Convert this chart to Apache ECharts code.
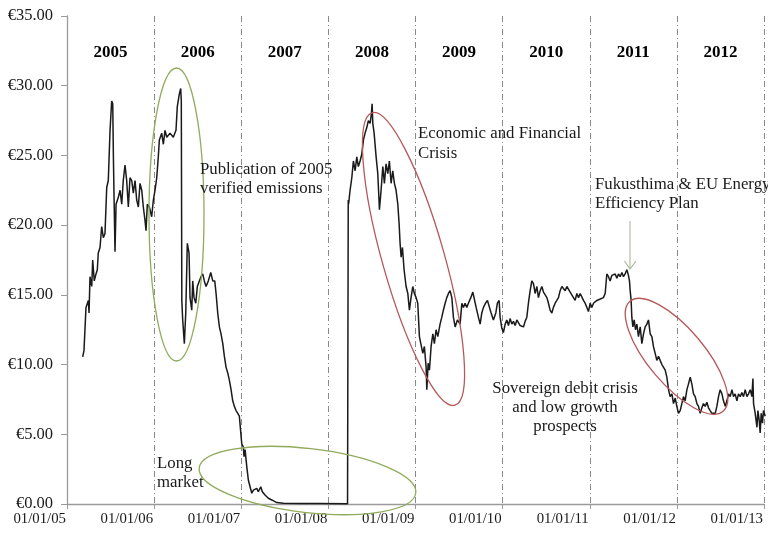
<!DOCTYPE html>
<html>
<head>
<meta charset="utf-8">
<script src="https://cdn.jsdelivr.net/npm/echarts@6/dist/echarts.min.js"></script>
<style>
html,body{margin:0;padding:0;background:#fff;}
#chart{width:768px;height:534px;}
</style>
</head>
<body>
<div id="chart"></div>
<script>
// Time in decimal years, price in EUR
const t = [
2005.180,2005.195,2005.218,2005.245,2005.253,2005.264,2005.284,2005.295,2005.313,2005.333,2005.348,2005.359,2005.379,2005.398,2005.417,2005.436,2005.456,2005.474,2005.494,2005.513,2005.525,2005.532,2005.540,2005.551,2005.563,2005.589,2005.609,2005.628,2005.646,2005.666,2005.685,2005.704,2005.723,2005.743,2005.761,2005.781,2005.800,2005.819,2005.838,2005.858,2005.876,2005.896,2005.907,2005.922,2005.945,2005.972,2005.991,
2006.010,2006.030,2006.048,2006.060,2006.087,2006.106,2006.125,2006.145,2006.183,2006.220,2006.251,2006.266,2006.289,2006.305,2006.312,2006.318,2006.328,2006.347,2006.363,2006.381,2006.401,2006.412,2006.432,2006.443,2006.458,2006.478,2006.496,2006.519,2006.538,2006.558,2006.576,2006.596,2006.622,2006.650,2006.673,2006.696,2006.711,2006.730,2006.749,2006.768,2006.788,2006.806,2006.826,2006.845,2006.863,2006.883,2006.902,2006.921,2006.940,2006.960,2006.978,2006.986,
2007.006,2007.024,2007.032,2007.044,2007.063,2007.082,2007.101,2007.121,2007.139,2007.158,2007.178,2007.196,2007.224,2007.242,2007.273,2007.311,2007.350,2007.408,2007.483,2007.675,2007.905,2008.220,
2008.228,2008.232,2008.249,2008.269,2008.287,2008.307,2008.326,2008.344,2008.364,2008.384,2008.402,2008.421,2008.441,2008.459,2008.479,2008.494,2008.502,2008.510,2008.525,2008.548,2008.567,2008.586,2008.605,2008.625,2008.643,2008.662,2008.682,2008.700,2008.720,2008.739,2008.758,2008.777,2008.797,2008.812,2008.823,2008.835,2008.850,2008.869,2008.892,2008.912,2008.930,2008.949,2008.969,2008.987,
2009.007,2009.026,2009.045,2009.061,2009.084,2009.102,2009.122,2009.130,2009.145,2009.160,2009.179,2009.199,2009.217,2009.236,2009.256,2009.282,2009.302,2009.320,2009.340,2009.359,2009.378,2009.397,2009.417,2009.435,2009.455,2009.481,2009.512,2009.532,2009.550,2009.569,2009.589,2009.607,2009.635,2009.658,2009.676,2009.696,2009.722,2009.742,2009.761,2009.780,2009.803,2009.826,2009.849,2009.868,2009.894,2009.922,2009.940,2009.960,2009.971,2009.991,
2010.009,2010.029,2010.048,2010.067,2010.086,2010.106,2010.124,2010.144,2010.163,2010.182,2010.201,2010.220,2010.239,2010.258,2010.278,2010.296,2010.316,2010.335,2010.354,2010.373,2010.393,2010.411,2010.431,2010.450,2010.469,2010.488,2010.508,2010.526,2010.545,2010.565,2010.583,2010.603,2010.622,2010.641,2010.660,2010.680,2010.698,2010.718,2010.737,2010.756,2010.775,2010.795,2010.813,2010.832,2010.852,2010.871,2010.890,2010.909,2010.928,2010.947,2010.967,2010.985,
2011.005,2011.024,2011.043,2011.062,2011.082,2011.100,2011.120,2011.139,2011.157,2011.177,2011.196,2011.215,2011.234,2011.254,2011.272,2011.292,2011.311,2011.330,2011.349,2011.369,2011.387,2011.406,2011.426,2011.444,2011.456,2011.464,2011.475,2011.483,2011.495,2011.510,2011.525,2011.541,2011.559,2011.579,2011.598,2011.617,2011.636,2011.656,2011.674,2011.694,2011.713,2011.731,2011.751,2011.770,2011.789,2011.808,2011.828,2011.846,2011.866,2011.885,2011.904,2011.923,2011.943,2011.961,2011.981,
2012.000,2012.018,2012.038,2012.057,2012.076,2012.095,2012.115,2012.133,2012.153,2012.172,2012.191,2012.210,2012.230,2012.248,2012.268,2012.287,2012.305,2012.325,2012.344,2012.363,2012.382,2012.402,2012.420,2012.440,2012.459,2012.478,2012.497,2012.517,2012.535,2012.555,2012.574,2012.593,2012.612,2012.632,2012.650,2012.669,2012.689,2012.707,2012.727,2012.746,2012.765,2012.784,2012.804,2012.822,2012.842,2012.861,2012.873,2012.880,2012.899,2012.919,2012.930,2012.945,2012.956,2012.968,2012.983,2012.994,2013.014
];
const price = [
10.55,11.0,14.1,14.6,13.7,16.3,15.6,17.5,16.0,16.5,16.8,18.0,18.4,19.9,19.1,19.4,22.7,23.2,26.8,28.9,28.7,25.1,22.0,18.1,21.5,22.0,22.5,21.5,23.2,24.3,23.2,21.3,23.4,23.2,22.3,23.2,21.8,21.3,23.0,22.5,21.3,20.3,19.6,21.5,21.3,20.6,21.8,
22.5,23.4,24.9,26.1,26.6,25.8,26.8,26.3,26.6,26.3,26.8,28.5,29.4,29.8,28.9,14.6,13.2,11.5,13.7,18.7,18.0,14.8,13.9,16.0,14.8,14.4,15.6,16.0,16.3,16.5,16.0,15.6,16.0,16.6,16.0,16.0,15.1,13.7,12.7,12.2,11.5,10.6,9.8,9.4,8.9,8.2,7.4,7.0,6.7,6.5,6.3,6.4,
4.3,4.1,3.4,3.9,2.7,1.7,1.24,0.77,1.0,0.88,1.12,0.88,1.24,0.88,0.64,0.41,0.29,0.10,0.05,0.04,0.03,0.02,
21.8,21.5,22.5,23.4,24.6,23.9,24.9,24.2,24.6,25.1,26.1,26.6,27.0,27.5,27.3,28.0,28.7,27.3,26.6,24.9,23.7,21.1,22.5,24.2,23.0,24.4,23.7,24.6,23.0,23.9,23.0,22.5,21.5,20.1,18.7,17.7,18.4,16.8,15.6,15.1,13.9,14.8,15.6,15.1,
14.8,14.4,12.0,11.5,10.8,11.3,9.8,8.2,10.1,9.6,11.3,12.2,11.5,12.5,12.0,12.9,13.4,13.9,14.4,14.8,15.1,15.3,14.8,13.4,12.7,13.2,12.9,14.4,14.1,14.4,14.1,14.4,14.8,15.2,15.1,14.1,13.4,12.9,13.7,14.1,14.4,14.6,14.1,13.7,13.2,13.7,14.4,14.6,13.4,12.6,
12.3,12.9,13.2,12.8,13.3,12.9,13.1,12.8,13.2,13.1,12.8,12.9,12.7,13.1,13.4,14.4,15.3,16.0,15.8,15.1,15.6,14.8,15.3,15.6,15.2,15.3,14.8,14.4,13.9,13.7,14.1,14.4,14.6,14.8,15.3,15.6,15.7,15.3,15.6,15.7,15.2,15.3,14.8,14.6,15.1,14.8,15.1,15.0,14.6,14.4,14.1,13.8,
14.4,14.1,14.4,14.3,14.6,14.5,14.7,14.6,14.8,15.1,16.5,16.3,16.0,16.4,16.3,16.5,16.2,16.5,16.3,16.6,16.3,16.5,16.8,16.4,16.0,15.3,14.6,13.4,12.7,13.2,12.5,12.9,12.0,12.7,11.5,12.2,12.7,12.9,13.2,12.2,12.0,11.3,10.8,10.3,10.6,10.3,10.0,10.1,9.6,9.1,8.2,7.7,7.9,7.2,7.6,
7.0,6.5,6.7,7.2,7.7,7.4,8.2,8.6,9.1,8.6,7.9,7.7,7.2,7.0,6.5,6.9,7.2,7.0,7.3,6.9,6.7,6.5,6.6,6.5,7.0,7.7,8.2,7.9,7.4,7.0,7.4,7.9,7.7,8.2,7.7,7.9,7.4,7.9,7.7,8.0,7.7,8.2,7.7,7.9,8.2,7.7,9.0,7.2,6.5,5.5,6.7,6.0,5.1,6.5,5.8,6.7,6.3
];
const yearNames = ['2005','2006','2007','2008','2009','2010','2011','2012'];
const yearNamePos = [2005.5,2006.5,2007.5,2008.5,2009.5,2010.5,2011.5,2012.5];
const yearNameLevel = 32.4;

const SERIF = '"Liberation Serif", "Times New Roman", serif';
const chart = echarts.init(document.getElementById('chart'), null, {renderer:'canvas'});

function txt(s, x, y, align) {
  return {type:'text', z:100, style:{text:s, x:x, y:y, font:'16.8px ' + SERIF, fill:'#1a1a1a', textAlign:align||'left', textVerticalAlign:'middle'}};
}
function ell(cx, cy, rx, ry, rot, color) {
  return {type:'ellipse', z:90, x:cx, y:cy, rotation:rot, shape:{cx:0, cy:0, rx:rx, ry:ry}, style:{fill:'none', stroke:color, lineWidth:1.3}};
}
const GREEN = '#8fab5c', RED = '#b5585a';

const option = {
  animation:false,
  backgroundColor:'#fff',
  grid:{left:67, right:4, top:16, bottom:30, containLabel:false, outerBoundsMode:'none'},
  xAxis:{
    type:'value', min:2005, max:2013, interval:1,
    axisLine:{show:true, lineStyle:{color:'#9a9a9a', width:1.3}},
    axisTick:{show:true, length:5, lineStyle:{color:'#9a9a9a'}},
    axisLabel:{fontFamily:SERIF, fontSize:14.8, color:'#1a1a1a', margin:8, hideOverlap:false,
      align:'right', padding:[0,1,0,0],
      formatter:v => '01/01/' + String(Math.round(v)).slice(2)},
    splitLine:{show:true, lineStyle:{color:'#8a8a8a', width:1, type:[6,3,1,3]}}
  },
  yAxis:{
    type:'value', min:0, max:35, interval:5, z:5,
    axisLine:{show:true, lineStyle:{color:'#9a9a9a', width:1.3}},
    axisTick:{show:true, length:6, lineStyle:{color:'#9a9a9a'}},
    axisLabel:{fontFamily:SERIF, fontSize:16.5, color:'#1a1a1a', margin:14,
      formatter:v => '\u20AC' + v.toFixed(2)},
    splitLine:{show:false}
  },
  series:[
    {
      type:'line', data:t.map((x,i)=>[x, price[i]]), showSymbol:false, symbol:'none',
      clip:false, lineStyle:{color:'#1a1a1a', width:1.5}, z:10
    },
    {
      type:'scatter', symbolSize:0, itemStyle:{color:'rgba(0,0,0,0)'}, silent:true,
      data:yearNamePos.map((x,i)=>[x, yearNameLevel, yearNames[i]]),
      label:{show:true, position:'inside', formatter:p => p.value[2],
        fontFamily:SERIF, fontWeight:'bold', fontSize:17, color:'#000',
        textBorderWidth:0, opacity:1},
      labelLayout:{hideOverlap:false}
    }
  ],
  graphic:[
    ell(176.5, 214.5, 27.5, 146.5, 0, GREEN),
    ell(307.5, 480.5, 109, 32, -0.115, GREEN),
    ell(413.5, 259, 31, 152, 0.276, RED),
    ell(676.5, 356.3, 72, 28, -0.869, RED),
    txt('Publication of 2005', 200, 170),
    txt('verified emissions', 200, 189),
    txt('Economic and Financial', 418, 134),
    txt('Crisis', 418, 154),
    txt('Fukusthima & EU Energy', 595, 185),
    txt('Efficiency Plan', 595, 204),
    txt('Sovereign debit crisis', 565, 389, 'center'),
    txt('and low growth', 565, 408, 'center'),
    txt('prospects', 565, 427, 'center'),
    txt('Long', 157, 464),
    txt('market', 157, 483),
    {type:'polyline', z:95, shape:{points:[[630,221],[630,268]]}, style:{stroke:'#b3bea6', lineWidth:1.2, fill:'none'}},
    {type:'polyline', z:95, shape:{points:[[624.5,261],[630,269],[636,261]]}, style:{stroke:'#a9b896', lineWidth:1.2, fill:'none'}}
  ]
};
chart.setOption(option);
</script>
</body>
</html>
